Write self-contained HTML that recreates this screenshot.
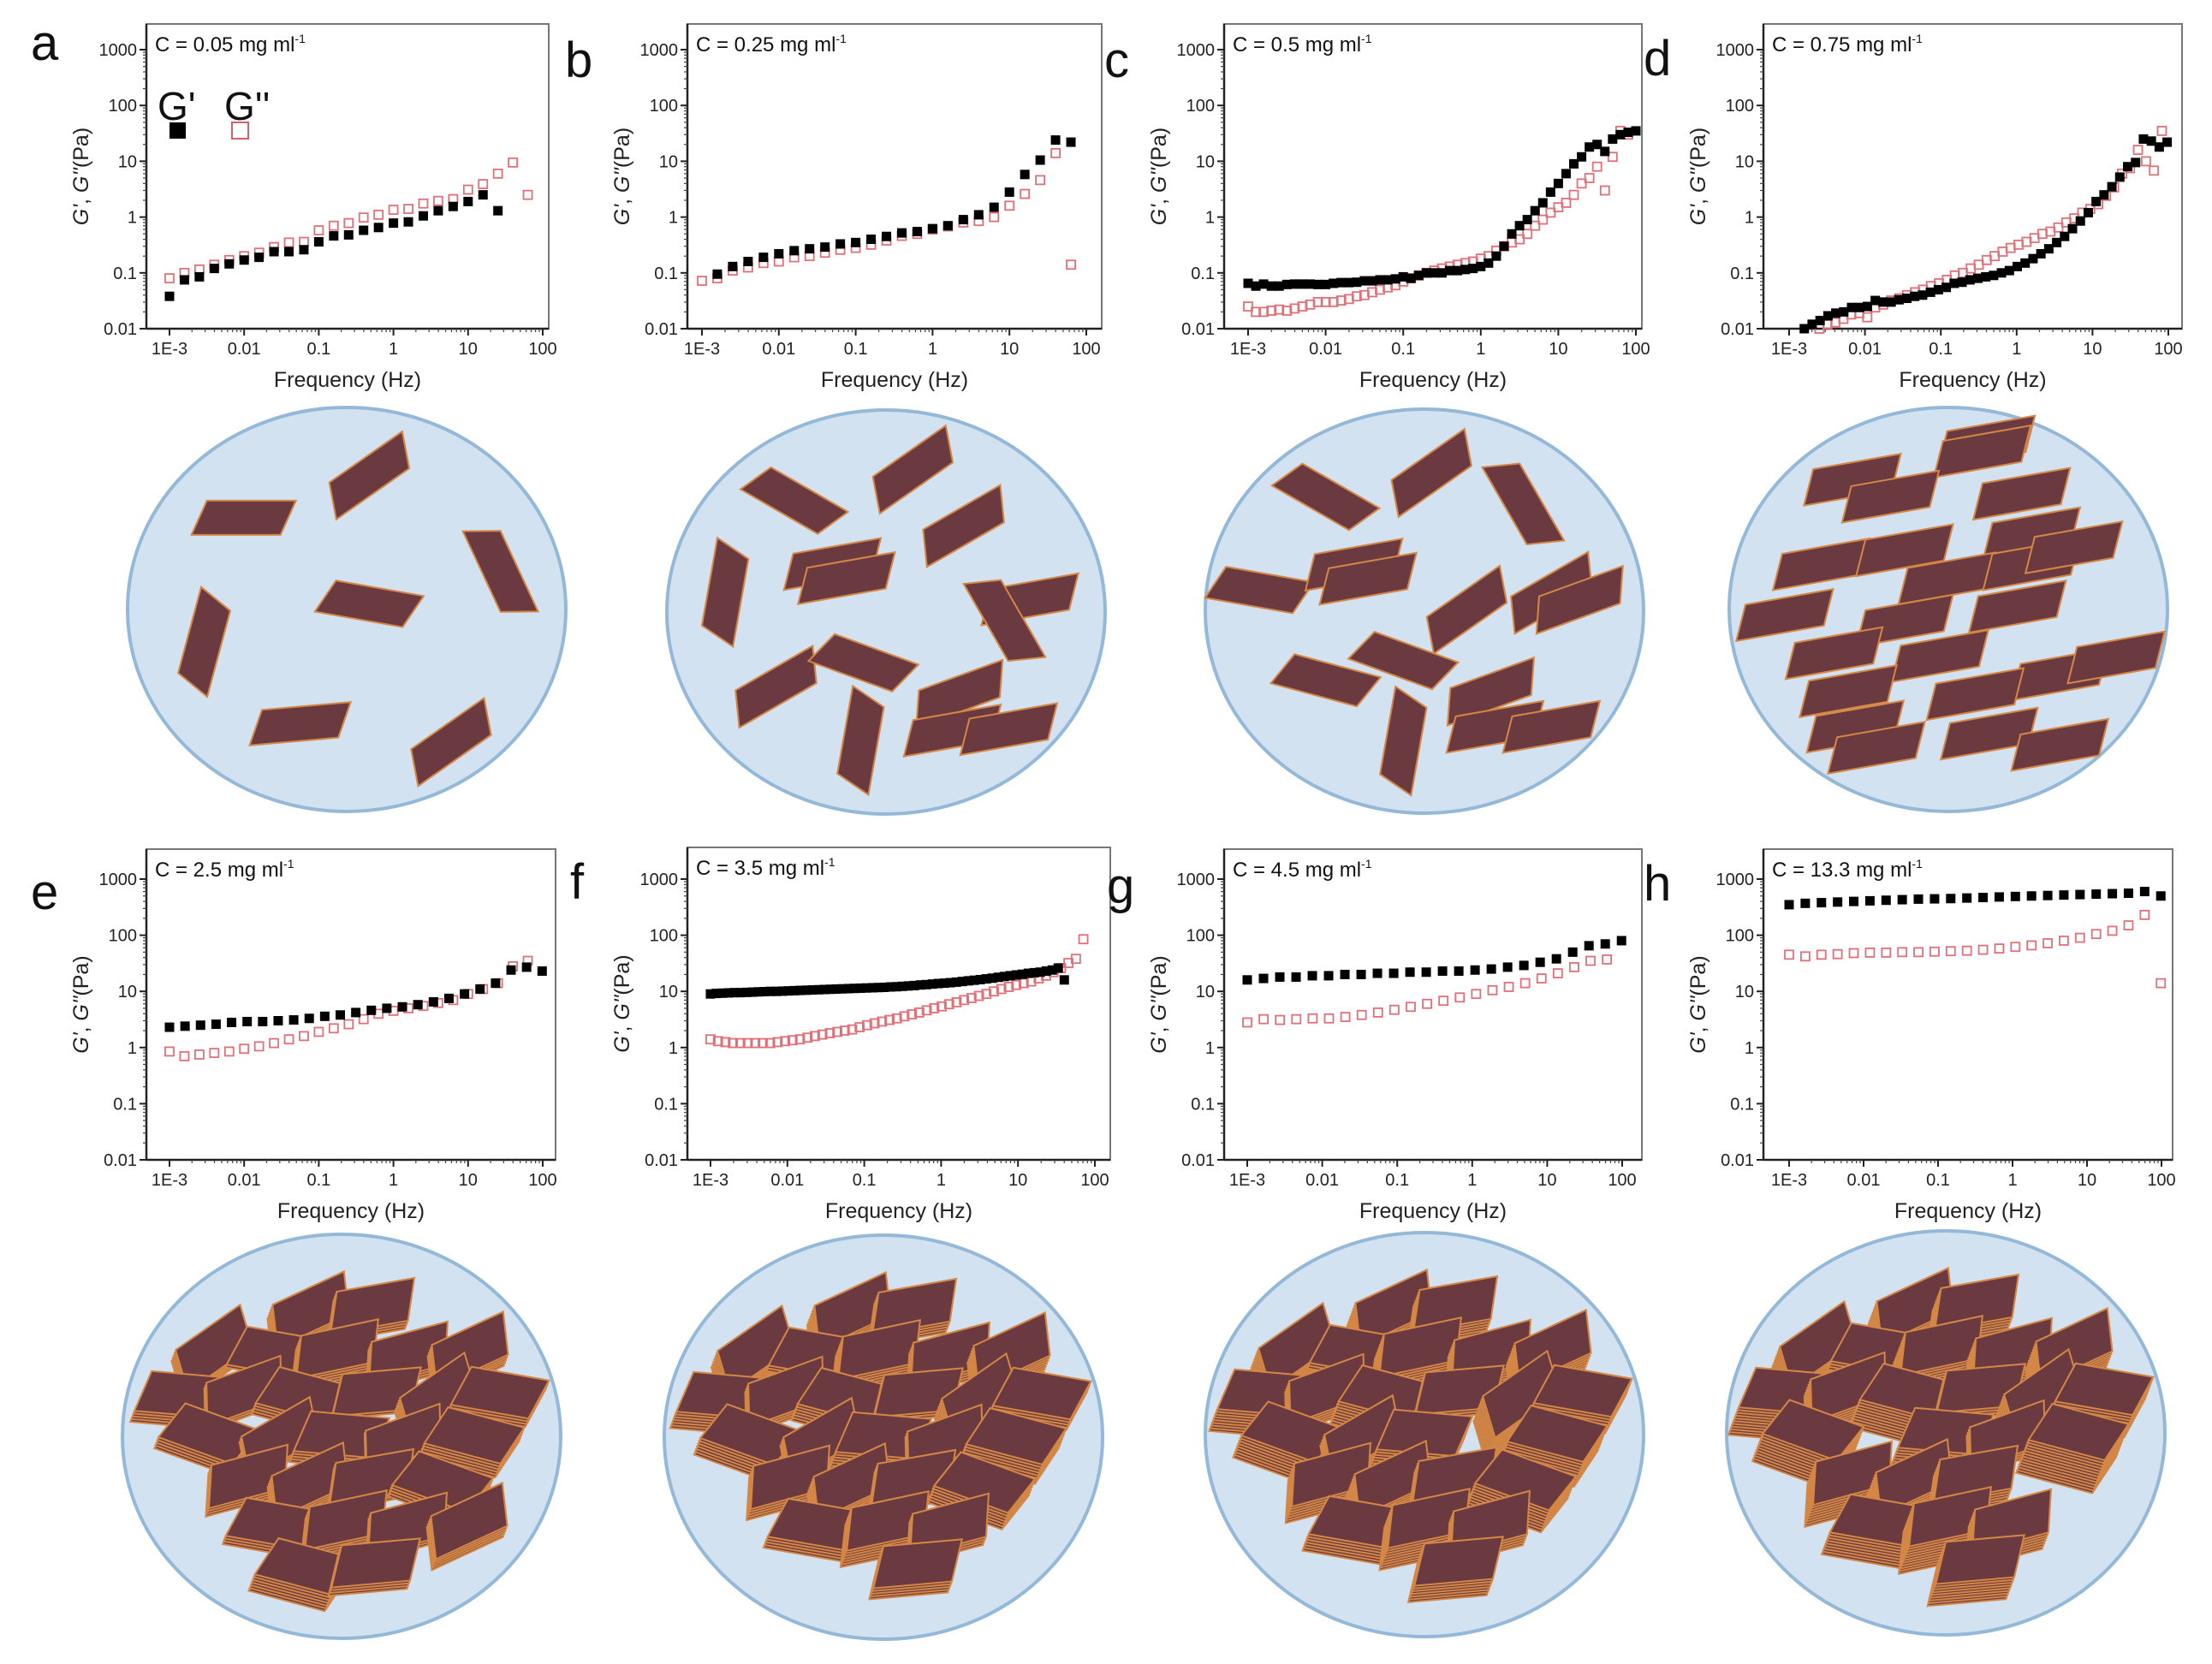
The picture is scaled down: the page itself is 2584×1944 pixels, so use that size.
<!DOCTYPE html>
<html><head><meta charset="utf-8">
<style>
html,body{margin:0;padding:0;background:#fff;}
svg{display:block;font-family:"Liberation Sans",Arial,sans-serif;}
</style></head>
<body>
<svg id="fig" width="2584" height="1944" viewBox="0 0 2584 1944" xmlns="http://www.w3.org/2000/svg"></svg>
<script>
// ---- Data (G' filled black, G'' open red); frequency exponents: start + i*step (log10 Hz)
const aGp = [0.038,0.075,0.085,0.12,0.145,0.17,0.19,0.24,0.24,0.26,0.36,0.46,0.48,0.58,0.65,0.78,0.82,1.05,1.3,1.55,1.9,2.5,1.3];
const aGpp = [0.08,0.1,0.115,0.14,0.17,0.2,0.23,0.29,0.35,0.36,0.58,0.7,0.78,0.98,1.1,1.35,1.4,1.75,1.95,2.1,3.1,3.9,6,9.5,2.5];
const bGp = [0.095,0.13,0.16,0.19,0.22,0.25,0.27,0.29,0.33,0.35,0.4,0.45,0.52,0.55,0.62,0.7,0.9,1.1,1.5,2.8,5.8,10.5,24,22];
const bGpp = [0.072,0.08,0.11,0.125,0.15,0.16,0.19,0.2,0.23,0.26,0.28,0.32,0.38,0.46,0.5,0.6,0.68,0.8,0.85,1.0,1.6,2.6,4.6,14,0.14];
const cGp = [0.065,0.058,0.063,0.058,0.058,0.062,0.063,0.063,0.063,0.062,0.062,0.065,0.067,0.067,0.068,0.072,0.072,0.075,0.075,0.078,0.085,0.08,0.09,0.1,0.1,0.1,0.11,0.11,0.115,0.12,0.13,0.15,0.2,0.3,0.5,0.7,0.9,1.3,1.8,2.8,4,6,9,12,18,20,15,25,30,33,35];
const cGpp = [0.025,0.02,0.02,0.021,0.022,0.021,0.023,0.025,0.027,0.03,0.03,0.03,0.032,0.034,0.038,0.04,0.045,0.05,0.055,0.06,0.07,0.08,0.09,0.1,0.11,0.12,0.13,0.14,0.15,0.16,0.18,0.2,0.25,0.3,0.35,0.4,0.5,0.7,0.9,1.2,1.5,1.8,2.5,4,5,8,3,12,35,30];
const dGp = [0.01,0.012,0.014,0.017,0.019,0.02,0.024,0.024,0.025,0.032,0.03,0.03,0.033,0.035,0.038,0.04,0.045,0.05,0.055,0.065,0.068,0.075,0.08,0.085,0.09,0.1,0.11,0.13,0.15,0.18,0.22,0.27,0.35,0.45,0.62,0.85,1.2,1.9,2.5,3.5,5.2,8,9.5,25,23,18,22];
const dGpp = [0.01,0.012,0.013,0.015,0.018,0.019,0.016,0.024,0.027,0.032,0.035,0.04,0.045,0.05,0.058,0.065,0.075,0.09,0.1,0.12,0.14,0.17,0.2,0.24,0.28,0.32,0.36,0.42,0.5,0.55,0.65,0.8,0.95,1.2,1.4,1.7,2.4,3.4,6,7.5,16,10,6.8,35];
const eGp = [2.3,2.4,2.5,2.6,2.8,2.9,2.9,3.0,3.1,3.3,3.6,3.8,4.2,4.6,5.0,5.3,5.8,6.5,7.5,9,11,14,24,27,23];
const eGpp = [0.85,0.7,0.75,0.8,0.85,0.95,1.05,1.2,1.4,1.6,1.9,2.2,2.6,3.2,4,4.5,5,5.5,6.2,7,9,11,14,28,35];
const fGp = [9,9.2,9.3,9.4,9.5,9.5,9.6,9.7,9.8,9.9,10,10,10.1,10.2,10.3,10.4,10.5,10.6,10.7,10.8,10.9,11,11.1,11.2,11.3,11.4,11.5,11.6,11.7,11.8,12,12.1,12.3,12.5,12.7,13,13.2,13.5,13.8,14,14.3,14.6,15,15.4,15.8,16.2,16.7,17.2,17.8,18.4,19,19.6,20.2,21,21.5,22,23,24,26,16];
const fGpp = [1.4,1.3,1.25,1.2,1.2,1.2,1.2,1.2,1.2,1.25,1.3,1.35,1.4,1.5,1.6,1.7,1.8,1.9,2,2.1,2.3,2.5,2.7,2.9,3.1,3.3,3.6,3.9,4.2,4.6,5,5.4,5.9,6.4,7,7.6,8.3,9,10,11,12,13,14,15,17,19,22,26,32,38,85];
const gGp = [16,17,18,18,19,19,20,20,21,21,22,22,23,23,24,25,27,29,33,38,50,65,70,80];
const gGpp = [2.8,3.2,3.1,3.2,3.3,3.3,3.5,3.8,4.2,4.7,5.3,6,6.8,7.8,9,10.5,12,14,17,21,27,35,37];
const hGp = [350,370,380,390,400,410,420,430,440,445,450,460,470,480,490,500,510,520,530,540,550,560,600,500];
const hGpp = [45,42,45,46,48,49,49,50,50,51,52,53,55,58,62,66,72,80,90,105,120,150,230,14];
const yTickLabels = ["0.01","0.1","1","10","100","1000"];
const xTickLabels = ["1E-3","0.01","0.1","1","10","100"];
const concLabels = ["0.05","0.25","0.5","0.75","2.5","3.5","4.5","13.3"];
const panelLetters = ["a","b","c","d","e","f","g","h"];

const NS="http://www.w3.org/2000/svg";
const svg=document.getElementById('fig');
function mk(tag,attrs,parent){const e=document.createElementNS(NS,tag);for(const k in attrs)e.setAttribute(k,attrs[k]);(parent||svg).appendChild(e);return e;}

const panels=[
 {L:171,R:641,T:28,B:384,x0:198,x1:634,y3:58, gp:aGp,gpS:-3,gpD:0.2, gpp:aGpp,gppS:-3,gppD:0.2, lx:36,ly:70},
 {L:803,R:1287,T:28,B:384,x0:820,x1:1269,y3:58, gp:bGp,gpS:-2.8,gpD:0.2, gpp:bGpp,gppS:-3,gppD:0.2, lx:660,ly:90},
 {L:1430,R:1918,T:28,B:384,x0:1458,x1:1911,y3:58, gp:cGp,gpS:-3,gpD:0.1, gpp:cGpp,gppS:-3,gppD:0.1, lx:1290,ly:90},
 {L:2060,R:2549,T:28,B:384,x0:2090,x1:2533,y3:58, gp:dGp,gpS:-2.8,gpD:0.104, gpp:dGpp,gppS:-2.6,gppD:0.105, lx:1920,ly:88},
 {L:171,R:649,T:992,B:1355,x0:198,x1:634,y3:1027, gp:eGp,gpS:-3,gpD:0.208, gpp:eGpp,gppS:-3,gppD:0.2, lx:36,ly:1062},
 {L:803,R:1297,T:990,B:1355,x0:830,x1:1279,y3:1027, gp:fGp,gpS:-3,gpD:0.078, gpp:fGpp,gppS:-3,gppD:0.097, lx:666,ly:1050},
 {L:1430,R:1918,T:992,B:1355,x0:1457,x1:1895,y3:1027, gp:gGp,gpS:-3,gpD:0.217, gpp:gGpp,gppS:-3,gppD:0.218, lx:1293,ly:1055},
 {L:2060,R:2538,T:992,B:1355,x0:2090,x1:2525,y3:1027, gp:hGp,gpS:-3,gpD:0.217, gpp:hGpp,gppS:-3,gppD:0.217, lx:1920,ly:1052}
];

panels.forEach((p,pi)=>{
  const g=mk('g',{});
  
  
  const xs=e=>p.x0+(e+3)*(p.x1-p.x0)/5;
  const ys=lv=>p.B-(lv+2)*(p.B-p.y3)/5;
  const letter=mk('text',{x:p.lx,y:p.ly,'font-size':58,fill:'#111'},g);
  letter.textContent=panelLetters[pi];
  
  
  const box=mk('rect',{x:p.L,y:p.T,width:p.R-p.L,height:p.B-p.T,fill:'none',stroke:'#777','stroke-width':2},g);
  
  
  mk('line',{x1:p.L,y1:p.T,x2:p.L,y2:p.B,stroke:'#222','stroke-width':2.5},g);
  mk('line',{x1:p.L,y1:p.B,x2:p.R,y2:p.B,stroke:'#222','stroke-width':2.5},g);
  yTickLabels.forEach((lab,i)=>{
    const y=ys(i-2);
    mk('line',{x1:p.L-8,y1:y,x2:p.L,y2:y,stroke:'#222','stroke-width':2},g);
    if(i<5)for(let m=2;m<10;m++){const yy=ys(i-2+Math.log10(m));mk('line',{x1:p.L-4,y1:yy,x2:p.L,y2:yy,stroke:'#444','stroke-width':1.2},g);}
    const t=mk('text',{x:p.L-11,y:y+7,'font-size':20,'text-anchor':'end',fill:'#222'},g);
    t.textContent=lab;
    
    
  });
  xTickLabels.forEach((lab,i)=>{
    const x=xs(i-3);
    mk('line',{x1:x,y1:p.B,x2:x,y2:p.B+8,stroke:'#222','stroke-width':2},g);
    if(i<5)for(let m=2;m<10;m++){const xx=xs(i-3+Math.log10(m));mk('line',{x1:xx,y1:p.B,x2:xx,y2:p.B+4,stroke:'#444','stroke-width':1.2},g);}
    const t=mk('text',{x:x,y:p.B+30,'font-size':20,'text-anchor':'middle',fill:'#222'},g);
    t.textContent=lab;
    
    
  });
  const xl=mk('text',{x:(p.L+p.R)/2,y:p.B+68,'font-size':25,'text-anchor':'middle',fill:'#222'},g);
  xl.textContent='Frequency (Hz)';
  
  
  const cy=(p.T+p.B)/2, cx=p.L-68;
  const yl=mk('text',{x:cx,y:cy,'font-size':25,'text-anchor':'middle',fill:'#222',transform:`rotate(-90 ${cx} ${cy})`},g);
  yl.innerHTML='<tspan font-style="italic">G\'</tspan>, <tspan font-style="italic">G\'\'</tspan>(Pa)';
  
  
  const ct=mk('text',{x:p.L+10,y:p.T+32,'font-size':24,fill:'#111'},g);
  ct.innerHTML='C = '+concLabels[pi]+' mg ml<tspan dy="-10" font-size="14">-1</tspan>';
  
  
  p.gpp.forEach((v,i)=>{
    const x=xs(p.gppS+i*p.gppD), y=ys(Math.log10(v));
    const r=mk('rect',{x:x-5,y:y-5,width:10,height:10,fill:'none',stroke:'#e07078','stroke-width':1.8},g);
    
    
  });
  p.gp.forEach((v,i)=>{
    const x=xs(p.gpS+i*p.gpD), y=ys(Math.log10(v));
    const r=mk('rect',{x:x-5.5,y:y-5.5,width:11,height:11,fill:'#000'},g);
    
    
  });
});
{
  const lg=mk('g',{});
  
  
  const t1=mk('text',{x:184,y:140,'font-size':46,fill:'#111'},lg);t1.textContent="G'";
  const t2=mk('text',{x:262,y:140,'font-size':46,fill:'#111'},lg);t2.textContent="G''";
  mk('rect',{x:198,y:143,width:19,height:19,fill:'#000'},lg);
  mk('rect',{x:271,y:143,width:19,height:19,fill:'none',stroke:'#d0606a','stroke-width':2},lg);
}

// ---- Illustrations (not chart data)
const circles=[[405,712],[1035,715],[1664,714],[2276,712],[399,1678],[1032,1679],[1664,1676],[2273,1674]];
function plate(parent,cx,cy,w,h,rot,skew){
  const a=rot*Math.PI/180, s=skew;
  const pts=[[-w/2+s,-h/2],[w/2+s,-h/2],[w/2-s,h/2],[-w/2-s,h/2]].map(([x,y])=>[cx+x*Math.cos(a)-y*Math.sin(a),cy+x*Math.sin(a)+y*Math.cos(a)]);
  mk('polygon',{points:pts.map(p=>p.join(',')).join(' '),fill:'#6b3a40',stroke:'#d48745','stroke-width':2},parent);
}
const topPlates=[
 [[-73,-65,0],[16,-95,-35],[109,-27,65],[16,-4,10],[-101,23,-75],[-33,81,-5],[74,94,-35]],
 [[-65,-79,30],[19,-101,-35],[55,-61,-30],[-114,-14,-80],[-38,-34,-10],[-28,-24,-10],[102,-9,-10],[84,6,60],[-78,53,-30],[-16,36,20],[-18,91,-80],[52,58,-20],[47,84,-10],[87,83,-10]],
 [[-70,-81,30],[5,-98,-35],[70,-76,60],[-117,-15,10],[-50,-33,-10],[-40,-23,-10],[30,-1,-35],[90,-13,-30],[110,-8,-20],[-70,49,15],[-15,35,20],[47,57,-20],[-15,92,-80],[50,82,-10],[90,82,-10]],
 [[-68,-92,-10],[27,-119,-10],[24,-112,-10],[-41,-80,-10],[52,-82,-10],[-90,-32,-10],[-31,-42,-10],[59,-54,-10],[-1,-22,-10],[59,-32,-10],[89,-44,-10],[-116,4,-10],[-31,8,-10],[49,-2,-10],[-81,31,-10],[-6,33,-10],[79,46,-10],[119,34,-10],[-71,58,-10],[19,60,-10],[-66,83,-10],[29,88,-10],[-51,98,-10],[79,96,-10]]
];
const stackAngles=[-15,-25,-10,20,-30,5,-20,15,-5,-35,10,-12];
const stackLayers=[3,5,2,6,4,5,3,7,4,5];
circles.forEach((c,ci)=>{
  const g=mk('g',{});
  
  
  mk('ellipse',{cx:c[0],cy:c[1],rx:256,ry:236,fill:'#d3e2f0',stroke:'#94b9d8','stroke-width':4},g);
  const f=1.648;
  if(ci<4){
    topPlates[ci].forEach(p=>plate(g,c[0]+p[0]*f,c[1]+p[1]*f,104,40,p[2],9));
  } else {
    const k=ci-4; let n=0;
    const mult=[1,1.3,1.7,2.2][k];
    for(let r=-4;r<=3;r++){
      for(let q=-4;q<=4;q++){
        const off=((r+8)%2)*38;
        const x=q*76+off+((n*7)%11)-5, y=r*50+((n*5)%9)-4;
        n++;
        const L=Math.round(stackLayers[n%stackLayers.length]*mult);
        const ybot=y+L*3.2+20;
        if((x*x)/(200*200)+(ybot*ybot)/(205*205)>1) continue;
        if((x*x)/(200*200)+((y-20)*(y-20))/(205*205)>1) continue;
        if(k===3 && ((r===0&&q===-1)||(r===1&&q===1))) continue;
        if(k===2 && r===0 && q===1) continue;
        const ang=stackAngles[n%stackAngles.length];
        for(let l=L-1;l>=0;l--) plate(g,c[0]+x-l*1.2,c[1]+y+l*3.2,92,48,ang,8);
      }
    }
  }
});
</script>
</body></html>
